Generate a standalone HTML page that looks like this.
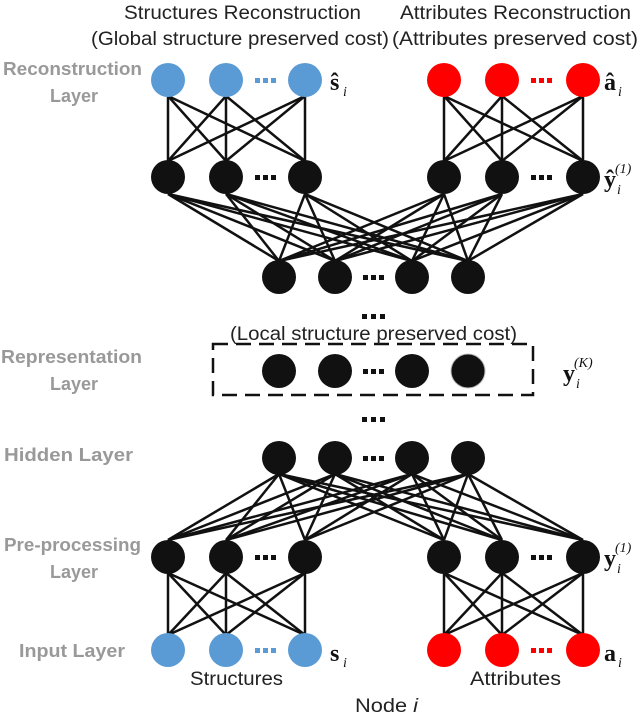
<!DOCTYPE html>
<html><head><meta charset="utf-8"><style>
html,body{margin:0;padding:0;background:#fff;}
svg{display:block;}
.t{font-family:"Liberation Sans",sans-serif;font-size:19px;fill:#222;}
.g{font-family:"Liberation Sans",sans-serif;font-size:18px;font-weight:bold;fill:#999;}
.m{font-family:"Liberation Serif",serif;font-weight:bold;font-size:24px;fill:#111;}
.s{font-family:"Liberation Serif",serif;font-style:italic;font-size:14px;fill:#111;}
</style></head><body>
<svg width="640" height="716" viewBox="0 0 640 716" xmlns="http://www.w3.org/2000/svg">
<g stroke="#111" stroke-width="2.5">
<g>
<line x1="168" y1="96" x2="168" y2="161"/><line x1="168" y1="96" x2="226" y2="161"/><line x1="168" y1="96" x2="305" y2="161"/>
<line x1="226" y1="96" x2="168" y2="161"/><line x1="226" y1="96" x2="226" y2="161"/><line x1="226" y1="96" x2="305" y2="161"/>
<line x1="305" y1="96" x2="168" y2="161"/><line x1="305" y1="96" x2="226" y2="161"/><line x1="305" y1="96" x2="305" y2="161"/>
</g>
<g transform="translate(276,0)">
<line x1="168" y1="96" x2="168" y2="161"/><line x1="168" y1="96" x2="226" y2="161"/><line x1="168" y1="96" x2="307" y2="161"/>
<line x1="226" y1="96" x2="168" y2="161"/><line x1="226" y1="96" x2="226" y2="161"/><line x1="226" y1="96" x2="307" y2="161"/>
<line x1="307" y1="96" x2="168" y2="161"/><line x1="307" y1="96" x2="226" y2="161"/><line x1="307" y1="96" x2="307" y2="161"/>
</g>
<g>
<line x1="168" y1="194" x2="279" y2="261"/><line x1="168" y1="194" x2="335" y2="261"/><line x1="168" y1="194" x2="412" y2="261"/><line x1="168" y1="194" x2="468" y2="261"/>
<line x1="226" y1="194" x2="279" y2="261"/><line x1="226" y1="194" x2="335" y2="261"/><line x1="226" y1="194" x2="412" y2="261"/><line x1="226" y1="194" x2="468" y2="261"/>
<line x1="305" y1="194" x2="279" y2="261"/><line x1="305" y1="194" x2="335" y2="261"/><line x1="305" y1="194" x2="412" y2="261"/><line x1="305" y1="194" x2="468" y2="261"/>
<line x1="444" y1="194" x2="279" y2="261"/><line x1="444" y1="194" x2="335" y2="261"/><line x1="444" y1="194" x2="412" y2="261"/><line x1="444" y1="194" x2="468" y2="261"/>
<line x1="502" y1="194" x2="279" y2="261"/><line x1="502" y1="194" x2="335" y2="261"/><line x1="502" y1="194" x2="412" y2="261"/><line x1="502" y1="194" x2="468" y2="261"/>
<line x1="583" y1="194" x2="279" y2="261"/><line x1="583" y1="194" x2="335" y2="261"/><line x1="583" y1="194" x2="412" y2="261"/><line x1="583" y1="194" x2="468" y2="261"/>
</g>
<g>
<line y1="474" y2="540" x1="279" x2="168"/><line y1="474" y2="540" x1="279" x2="226"/><line y1="474" y2="540" x1="279" x2="305"/><line y1="474" y2="540" x1="279" x2="444"/><line y1="474" y2="540" x1="279" x2="502"/><line y1="474" y2="540" x1="279" x2="583"/>
<line y1="474" y2="540" x1="335" x2="168"/><line y1="474" y2="540" x1="335" x2="226"/><line y1="474" y2="540" x1="335" x2="305"/><line y1="474" y2="540" x1="335" x2="444"/><line y1="474" y2="540" x1="335" x2="502"/><line y1="474" y2="540" x1="335" x2="583"/>
<line y1="474" y2="540" x1="412" x2="168"/><line y1="474" y2="540" x1="412" x2="226"/><line y1="474" y2="540" x1="412" x2="305"/><line y1="474" y2="540" x1="412" x2="444"/><line y1="474" y2="540" x1="412" x2="502"/><line y1="474" y2="540" x1="412" x2="583"/>
<line y1="474" y2="540" x1="468" x2="168"/><line y1="474" y2="540" x1="468" x2="226"/><line y1="474" y2="540" x1="468" x2="305"/><line y1="474" y2="540" x1="468" x2="444"/><line y1="474" y2="540" x1="468" x2="502"/><line y1="474" y2="540" x1="468" x2="583"/>
</g>
<g transform="translate(0,477)">
<line x1="168" y1="96" x2="168" y2="158"/><line x1="168" y1="96" x2="226" y2="158"/><line x1="168" y1="96" x2="305" y2="158"/>
<line x1="226" y1="96" x2="168" y2="158"/><line x1="226" y1="96" x2="226" y2="158"/><line x1="226" y1="96" x2="305" y2="158"/>
<line x1="305" y1="96" x2="168" y2="158"/><line x1="305" y1="96" x2="226" y2="158"/><line x1="305" y1="96" x2="305" y2="158"/>
</g>
<g transform="translate(276,477)">
<line x1="168" y1="96" x2="168" y2="158"/><line x1="168" y1="96" x2="226" y2="158"/><line x1="168" y1="96" x2="307" y2="158"/>
<line x1="226" y1="96" x2="168" y2="158"/><line x1="226" y1="96" x2="226" y2="158"/><line x1="226" y1="96" x2="307" y2="158"/>
<line x1="307" y1="96" x2="168" y2="158"/><line x1="307" y1="96" x2="226" y2="158"/><line x1="307" y1="96" x2="307" y2="158"/>
</g>
</g>
<g fill="#5b9bd5"><circle cx="168" cy="80" r="17"/><circle cx="226" cy="80" r="17"/><circle cx="305" cy="80" r="17"/>
<circle cx="168" cy="650" r="17"/><circle cx="226" cy="650" r="17"/><circle cx="305" cy="650" r="17"/></g>
<g fill="#ff0000"><circle cx="444" cy="80" r="17"/><circle cx="502" cy="80" r="17"/><circle cx="583" cy="80" r="17"/>
<circle cx="444" cy="650" r="17"/><circle cx="502" cy="650" r="17"/><circle cx="583" cy="650" r="17"/></g>
<g fill="#111">
<circle cx="168" cy="177" r="17"/><circle cx="226" cy="177" r="17"/><circle cx="305" cy="177" r="17"/>
<circle cx="444" cy="177" r="17"/><circle cx="502" cy="177" r="17"/><circle cx="583" cy="177" r="17"/>
<circle cx="279" cy="277" r="17"/><circle cx="335" cy="277" r="17"/><circle cx="412" cy="277" r="17"/><circle cx="468" cy="277" r="17"/>
<circle cx="279" cy="371" r="17"/><circle cx="335" cy="371" r="17"/><circle cx="412" cy="371" r="17"/><circle cx="468" cy="371" r="17" stroke="#bbb" stroke-width="1"/>
<circle cx="279" cy="458" r="17"/><circle cx="335" cy="458" r="17"/><circle cx="412" cy="458" r="17"/><circle cx="468" cy="458" r="17"/>
<circle cx="168" cy="557" r="17"/><circle cx="226" cy="557" r="17"/><circle cx="305" cy="557" r="17"/>
<circle cx="444" cy="557" r="17"/><circle cx="502" cy="557" r="17"/><circle cx="583" cy="557" r="17"/>
</g>
<g>
<g fill="#5b9bd5"><rect x="255" y="78" width="5" height="5"/><rect x="263" y="78" width="5" height="5"/><rect x="271" y="78" width="5" height="5"/>
<rect x="255" y="648" width="5" height="5"/><rect x="263" y="648" width="5" height="5"/><rect x="271" y="648" width="5" height="5"/></g>
<g fill="#ff0000"><rect x="531" y="78" width="5" height="5"/><rect x="539" y="78" width="5" height="5"/><rect x="547" y="78" width="5" height="5"/>
<rect x="531" y="648" width="5" height="5"/><rect x="539" y="648" width="5" height="5"/><rect x="547" y="648" width="5" height="5"/></g>
<g fill="#111">
<rect x="255" y="175" width="5" height="5"/><rect x="263" y="175" width="5" height="5"/><rect x="271" y="175" width="5" height="5"/>
<rect x="531" y="175" width="5" height="5"/><rect x="539" y="175" width="5" height="5"/><rect x="547" y="175" width="5" height="5"/>
<rect x="363" y="275" width="5" height="5"/><rect x="371" y="275" width="5" height="5"/><rect x="379" y="275" width="5" height="5"/>
<rect x="362" y="314" width="5" height="5"/><rect x="371" y="314" width="5" height="5"/><rect x="380" y="314" width="5" height="5"/>
<rect x="363" y="369" width="5" height="5"/><rect x="371" y="369" width="5" height="5"/><rect x="379" y="369" width="5" height="5"/>
<rect x="362" y="417" width="5" height="5"/><rect x="371" y="417" width="5" height="5"/><rect x="380" y="417" width="5" height="5"/>
<rect x="363" y="456" width="5" height="5"/><rect x="371" y="456" width="5" height="5"/><rect x="379" y="456" width="5" height="5"/>
<rect x="255" y="555" width="5" height="5"/><rect x="263" y="555" width="5" height="5"/><rect x="271" y="555" width="5" height="5"/>
<rect x="531" y="555" width="5" height="5"/><rect x="539" y="555" width="5" height="5"/><rect x="547" y="555" width="5" height="5"/>
</g></g>
<rect x="213" y="344" width="320" height="51" fill="none" stroke="#111" stroke-width="2.5" stroke-dasharray="15,8"/>
<text class="t" x="124" y="19" textLength="237" lengthAdjust="spacingAndGlyphs">Structures Reconstruction</text>
<text class="t" x="91" y="45" textLength="298" lengthAdjust="spacingAndGlyphs">(Global structure preserved cost)</text>
<text class="t" x="400" y="19" textLength="231" lengthAdjust="spacingAndGlyphs">Attributes Reconstruction</text>
<text class="t" x="392" y="45" textLength="246" lengthAdjust="spacingAndGlyphs">(Attributes preserved cost)</text>
<text class="t" x="230" y="340" textLength="287" lengthAdjust="spacingAndGlyphs">(Local structure preserved cost)</text>
<text class="t" x="190" y="685" textLength="93" lengthAdjust="spacingAndGlyphs">Structures</text>
<text class="t" x="470" y="685" textLength="91" lengthAdjust="spacingAndGlyphs">Attributes</text>
<text class="t" x="355" y="712" textLength="63" lengthAdjust="spacingAndGlyphs">Node <tspan font-style="italic">i</tspan></text>
<text class="g" x="3" y="75" textLength="139" lengthAdjust="spacingAndGlyphs">Reconstruction</text>
<text class="g" x="50" y="102" textLength="48" lengthAdjust="spacingAndGlyphs">Layer</text>
<text class="g" x="1" y="363" textLength="141" lengthAdjust="spacingAndGlyphs">Representation</text>
<text class="g" x="50" y="390" textLength="48" lengthAdjust="spacingAndGlyphs">Layer</text>
<text class="g" x="4" y="461" textLength="129" lengthAdjust="spacingAndGlyphs">Hidden Layer</text>
<text class="g" x="4" y="551" textLength="137" lengthAdjust="spacingAndGlyphs">Pre-processing</text>
<text class="g" x="50" y="578" textLength="48" lengthAdjust="spacingAndGlyphs">Layer</text>
<text class="g" x="19" y="657" textLength="106" lengthAdjust="spacingAndGlyphs">Input Layer</text>
<text class="m" x="330" y="90">ŝ</text><text class="s" x="343" y="96">i</text>
<text class="m" x="604" y="90">â</text><text class="s" x="618" y="96">i</text>
<text class="m" x="604" y="187">ŷ</text><text class="s" x="617" y="194">i</text><text class="s" x="615" y="173" font-style="normal">(1)</text>
<text class="m" x="563" y="381">y</text><text class="s" x="576" y="388">i</text><text class="s" x="574" y="367">(K)</text>
<text class="m" x="604" y="566">y</text><text class="s" x="617" y="573">i</text><text class="s" x="615" y="552" font-style="normal">(1)</text>
<text class="m" x="330" y="661">s</text><text class="s" x="343" y="667">i</text>
<text class="m" x="604" y="661">a</text><text class="s" x="618" y="667">i</text>
</svg>
</body></html>
